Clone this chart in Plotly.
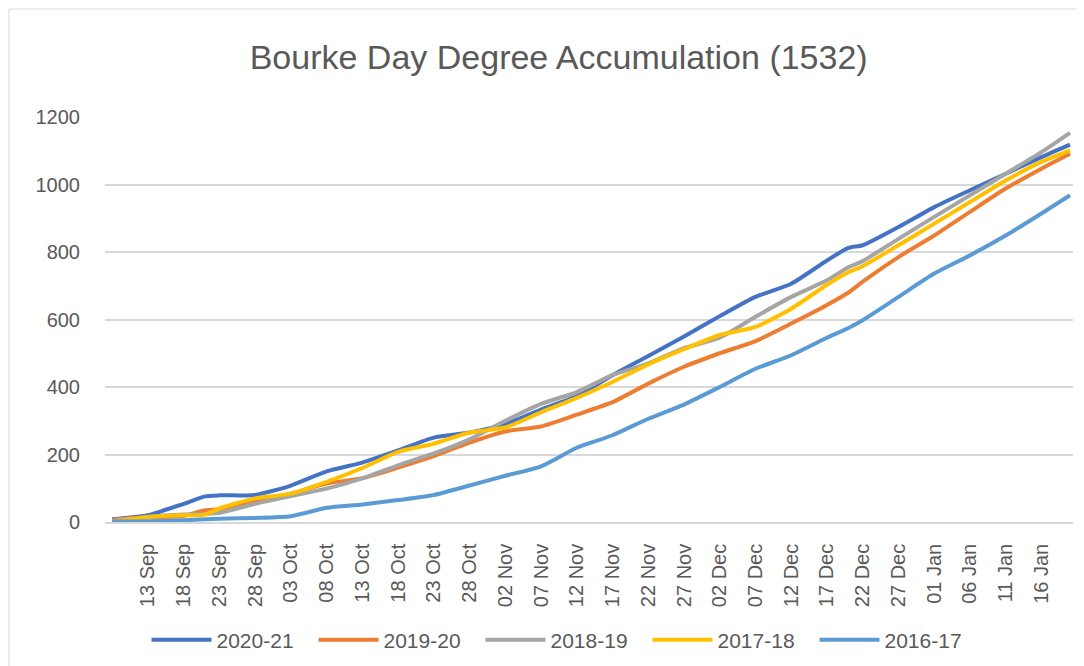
import plotly.graph_objects as go

dates = ["2020-09-08", "2020-09-13", "2020-09-18", "2020-09-21", "2020-09-23",
         "2020-09-28", "2020-10-03", "2020-10-08", "2020-10-13", "2020-10-18",
         "2020-10-23", "2020-10-28", "2020-11-02", "2020-11-07", "2020-11-12",
         "2020-11-17", "2020-11-22", "2020-11-27", "2020-12-02", "2020-12-07",
         "2020-12-12", "2020-12-17", "2020-12-20", "2020-12-22", "2020-12-27",
         "2021-01-01", "2021-01-06", "2021-01-11", "2021-01-16", "2021-01-20"]

s2020_21 = [8, 20, 54, 76, 79, 80, 108, 150, 176, 212, 250, 265, 290, 333, 373,
            435, 492, 550, 610, 667, 706, 775, 812, 820, 874, 933, 983, 1032, 1081, 1118]
s2019_20 = [7, 14, 18, 35, 38, 62, 84, 114, 130, 161, 195, 235, 268, 283, 318,
            355, 410, 460, 500, 536, 588, 643, 680, 712, 785, 849, 919, 988, 1047, 1091]
s2018_19 = [2, 15, 22, 24, 27, 54, 77, 99, 129, 168, 203, 245, 300, 350, 385,
            435, 470, 515, 546, 608, 667, 716, 755, 773, 839, 904, 968, 1032, 1096, 1153]
s2017_18 = [2, 15, 20, 22, 40, 70, 84, 119, 160, 208, 232, 265, 280, 325, 368,
            415, 467, 512, 554, 578, 632, 703, 740, 758, 820, 884, 948, 1012, 1067, 1101]
s2016_17 = [2, 2, 5, 8, 10, 12, 17, 42, 52, 65, 80, 108, 137, 165, 220,
            257, 306, 348, 400, 454, 494, 546, 575, 598, 667, 736, 790, 849, 914, 968]

tick_dates = ["2020-09-13", "2020-09-18", "2020-09-23", "2020-09-28", "2020-10-03",
              "2020-10-08", "2020-10-13", "2020-10-18", "2020-10-23", "2020-10-28",
              "2020-11-02", "2020-11-07", "2020-11-12", "2020-11-17", "2020-11-22",
              "2020-11-27", "2020-12-02", "2020-12-07", "2020-12-12", "2020-12-17",
              "2020-12-22", "2020-12-27", "2021-01-01", "2021-01-06", "2021-01-11",
              "2021-01-16"]
tick_labels = ["13 Sep", "18 Sep", "23 Sep", "28 Sep", "03 Oct", "08 Oct", "13 Oct",
               "18 Oct", "23 Oct", "28 Oct", "02 Nov", "07 Nov", "12 Nov", "17 Nov",
               "22 Nov", "27 Nov", "02 Dec", "07 Dec", "12 Dec", "17 Dec", "22 Dec",
               "27 Dec", "01 Jan", "06 Jan", "11 Jan", "16 Jan"]

series_names = ["2020-21", "2019-20", "2018-19", "2017-18", "2016-17"]
series_values = [s2020_21, s2019_20, s2018_19, s2017_18, s2016_17]
colors = ["#4472C4", "#ED7D31", "#A5A5A5", "#FFC000", "#5B9BD5"]

FONT = "Liberation Sans, Arial, sans-serif"
TXT = "#595959"

fig = go.Figure()
for name, vals, col in zip(series_names, series_values, colors):
    fig.add_trace(go.Scatter(
        x=dates, y=vals, name=name, mode="lines",
        line=dict(color=col, width=4, shape="spline", smoothing=0.6),
    ))

fig.update_layout(
    width=1084, height=666,
    margin=dict(l=97, r=19, t=109, b=152, autoexpand=False),
    paper_bgcolor="white", plot_bgcolor="white",
    font=dict(family=FONT, color=TXT, size=20),
    title=dict(text="Bourke Day Degree Accumulation (1532)",
               x=0.508, xref="container", xanchor="center",
               y=1 - 49 / 666, yref="container", yanchor="middle",
               font=dict(family=FONT, size=34, color=TXT)),
    showlegend=True,
    legend=dict(orientation="h", x=556 / 1084, xref="container", xanchor="center",
                y=1 - 632 / 666, yref="container", yanchor="middle",
                font=dict(family=FONT, size=21, color=TXT),
                entrywidth=92, entrywidthmode="pixels",
                itemwidth=60, bgcolor="rgba(0,0,0,0)"),
    shapes=[dict(type="rect", xref="paper", yref="paper",
                 x0=-96 / 968, x1=(1083 - 97) / 968,
                 y0=-151 / 405, y1=(514 - 1) / 405,
                 line=dict(color="#D9D9D9", width=1), layer="below")],
)

fig.update_xaxes(
    type="date",
    range=["2020-09-07 00:00", "2021-01-20 10:00"],
    tickmode="array", tickvals=tick_dates, ticktext=tick_labels,
    tickangle=-90, ticklabelstandoff=12,
    showgrid=False, showline=True, linecolor="#D9D9D9", linewidth=1.5,
    ticks="", tickfont=dict(size=20, color=TXT), zeroline=False,
)
fig.update_yaxes(
    range=[0, 1200], dtick=200, tick0=0,
    showgrid=True, gridcolor="#D9D9D9", gridwidth=1.5,
    zeroline=False, showline=False, ticks="",
    ticklabelstandoff=24, tickfont=dict(size=20, color=TXT),
)

fig.write_html("out.html")
